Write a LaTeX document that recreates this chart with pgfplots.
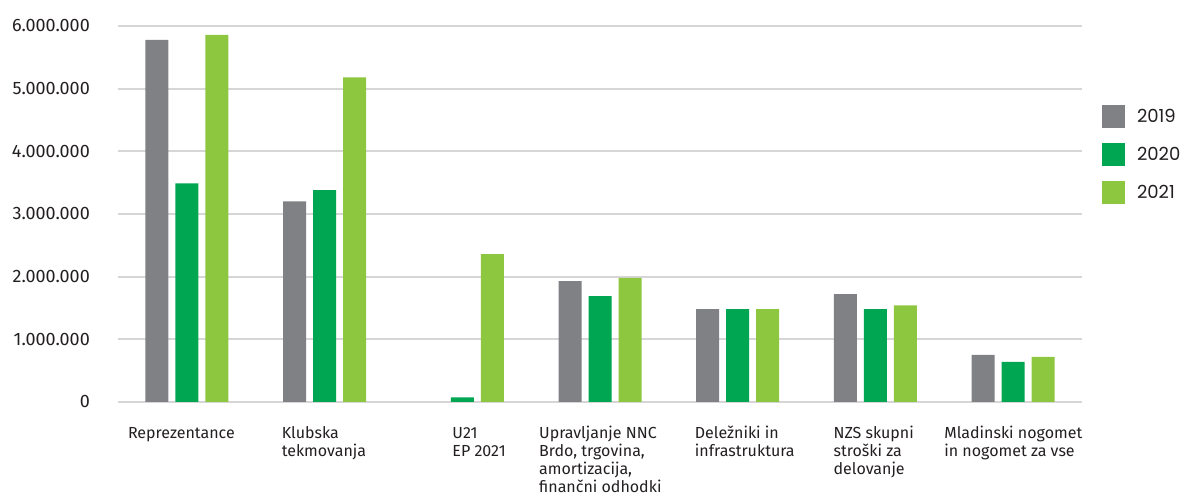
\documentclass[border=0pt]{standalone}
\usepackage{fontspec}
\setmainfont{Fira Sans}
\newfontfamily\legendfont{Poppins}
\usepackage{pgfplots}
\pgfplotsset{compat=1.18}
\definecolor{cA}{HTML}{808184}
\definecolor{cB}{HTML}{00A651}
\definecolor{cC}{HTML}{8DC63F}
\definecolor{gridc}{HTML}{D6D6D6}
\definecolor{txt}{HTML}{231F20}
\newcommand\lab[1]{{\fontsize{16}{18}\selectfont\begin{tabular}[t]{@{}l@{}}#1\end{tabular}}}
\begin{document}
\begin{tikzpicture}
\useasboundingbox (0,0) rectangle (1184pt,497pt);
\begin{axis}[
  at={(118pt,95pt)}, anchor=south west,
  scale only axis, width=964pt, height=376pt,
  xmin=-0.5, xmax=6.5, ymin=0, ymax=6000000,
  clip=false,
  axis line style={draw=none},
  major tick length=0pt,
  xtick=\empty,
  ytick={0,1000000,2000000,3000000,4000000,5000000,6000000},
  ymajorgrids, grid style={gridc, line width=2pt},
  scaled y ticks=false,
  /pgf/number format/fixed,
  /pgf/number format/precision=0,
  /pgf/number format/1000 sep={.},
  /pgf/number format/assume math mode=true,
  yticklabel style={font=\fontsize{18}{20}\selectfont, anchor=east, inner sep=0pt, xshift=-28pt, text=txt},
  legend style={at={(1,0.79)}, anchor=north west, xshift=20pt, draw=none, fill=none,
    inner sep=0pt, outer sep=0pt, row sep=15pt, column sep=12pt,
    font=\legendfont\fontsize{18}{20}\selectfont, text=txt, nodes={inner sep=0pt}},
  legend cell align=left,
  legend image code/.code={\fill[#1] (0pt,-11.5pt) rectangle (23pt,11.5pt);},
]
\addplot[ybar, bar width=23pt, bar shift=-30pt, fill=cA, draw=none]
  coordinates {(0,5780000) (1,3200000) (3,1930000) (4,1480000) (5,1720000) (6,750000)};
\addlegendentry{2019}
\addplot[ybar, bar width=23pt, bar shift=0pt, fill=cB, draw=none]
  coordinates {(0,3490000) (1,3380000) (2,75000) (3,1690000) (4,1480000) (5,1480000) (6,640000)};
\addlegendentry{2020}
\addplot[ybar, bar width=23pt, bar shift=30pt, fill=cC, draw=none]
  coordinates {(0,5860000) (1,5180000) (2,2360000) (3,1980000) (4,1480000) (5,1540000) (6,720000)};
\addlegendentry{2021}
\node[anchor=base west, inner sep=0pt, text=txt] at ([xshift=-59pt,yshift=-37pt]axis cs:0,0) {\lab{Reprezentance}};
\node[anchor=base west, inner sep=0pt, text=txt] at ([xshift=-43pt,yshift=-37pt]axis cs:1,0) {\lab{Klubska\\tekmovanja}};
\node[anchor=base west, inner sep=0pt, text=txt] at ([xshift=-10pt,yshift=-37pt]axis cs:2,0) {\lab{U21\\EP 2021}};
\node[anchor=base west, inner sep=0pt, text=txt] at ([xshift=-61pt,yshift=-37pt]axis cs:3,0) {\lab{Upravljanje NNC\\Brdo, trgovina,\\amortizacija,\\finančni odhodki}};
\node[anchor=base west, inner sep=0pt, text=txt] at ([xshift=-43pt,yshift=-37pt]axis cs:4,0) {\lab{Deležniki in\\infrastruktura}};
\node[anchor=base west, inner sep=0pt, text=txt] at ([xshift=-42pt,yshift=-37pt]axis cs:5,0) {\lab{NZS skupni\\stroški za\\delovanje}};
\node[anchor=base west, inner sep=0pt, text=txt] at ([xshift=-69pt,yshift=-37pt]axis cs:6,0) {\lab{Mladinski nogomet\\in nogomet za vse}};
\end{axis}
\end{tikzpicture}
\end{document}
